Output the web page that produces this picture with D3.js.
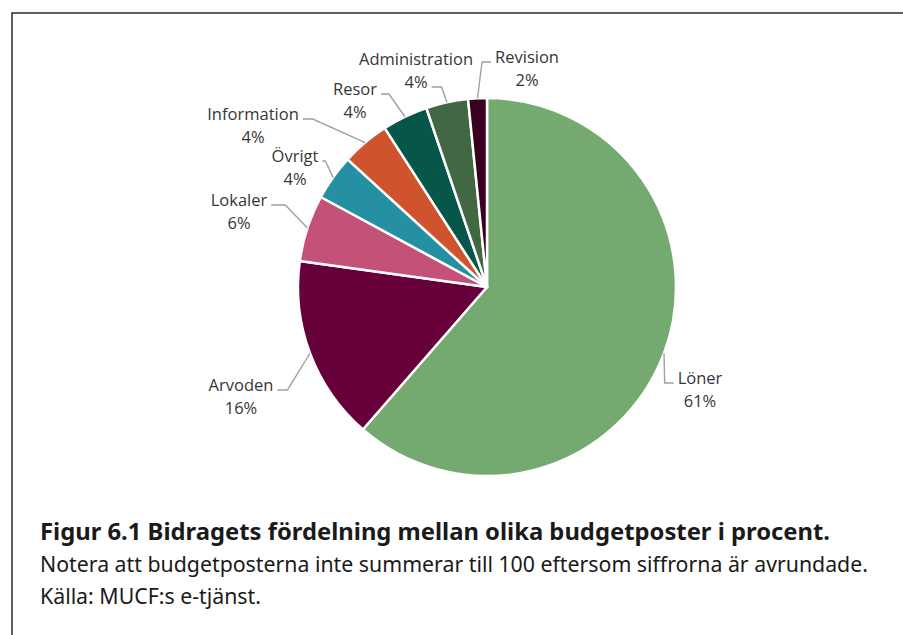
<!DOCTYPE html>
<html>
<head>
<meta charset="utf-8">
<script src="https://cdn.jsdelivr.net/npm/d3@7"></script>
<style>
  html, body { margin: 0; padding: 0; background: #fff; }
  svg { display: block; }
</style>
</head>
<body>
<svg id="chart" width="903" height="635"></svg>
<script>
// ---- data ----
const categories = ["Löner", "Arvoden", "Lokaler", "Övrigt", "Information", "Resor", "Administration", "Revision"];
const values = [61.4, 15.8, 5.7, 3.9, 4.1, 3.9, 3.6, 1.6];
const percentLabels = ["61%", "16%", "6%", "4%", "4%", "4%", "4%", "2%"];
const colors = ["#74AA6F", "#67003A", "#C45278", "#2690A3", "#CF532C", "#06564A", "#416743", "#3A0020"];
const titleText = "Figur 6.1 Bidragets fördelning mellan olika budgetposter i procent.";
const noteText = "Notera att budgetposterna inte summerar till 100 eftersom siffrorna är avrundade.";
const sourceText = "Källa: MUCF:s e-tjänst.";

// ---- label layout (manual placement, relative to pie centre) ----
const labelLayout = [
  { dx: 213,  dy: 97,   side: "left",  line: 1, elbow: 9 },
  { dx: -246, dy: 104,  side: "right", line: 1, elbow: 10 },
  { dx: -248, dy: -81,  side: "right", line: 1, elbow: 14 },
  { dx: -192, dy: -125, side: "right", line: 1, elbow: 3 },
  { dx: -234, dy: -167, side: "right", line: 1, elbow: 10 },
  { dx: -132, dy: -192, side: "right", line: 1, elbow: 8 },
  { dx: -71,  dy: -222, side: "right", line: 2, elbow: 10 },
  { dx: 40,   dy: -224, side: "left",  line: 1, elbow: 9 }
];

const svg = d3.select("#chart");
const W = 903, H = 635;
const cx = 487, cy = 287, R = 189;

// frame
svg.append("path")
  .attr("d", `M12,${H} V13 H${W}`)
  .attr("fill", "none")
  .attr("stroke", "#2b2b2b")
  .attr("stroke-width", 1.5);

const g = svg.append("g").attr("transform", `translate(${cx},${cy})`);

const pie = d3.pie().sort(null).value(d => d);
const arcs = pie(values);
const arc = d3.arc().innerRadius(0).outerRadius(R);
const edgeArc = d3.arc().innerRadius(R).outerRadius(R);

g.selectAll("path.slice")
  .data(arcs)
  .join("path")
  .attr("class", "slice")
  .attr("d", arc)
  .attr("fill", (d, i) => colors[i])
  .attr("stroke", "#fff")
  .attr("stroke-width", 2.5)
  .attr("stroke-linejoin", "round");

// labels
const lineGap = 23;
const labelFont = "'Open Sans', 'Noto Sans', sans-serif";
const lg = g.append("g");
arcs.forEach((d, i) => {
  const L = labelLayout[i];
  const t = lg.append("text")
    .attr("text-anchor", "middle")
    .attr("font-family", labelFont)
    .attr("font-size", 16.5)
    .attr("fill", "#363636");
  const t1 = t.append("tspan").attr("x", L.dx).attr("y", L.dy).text(categories[i]);
  const t2 = t.append("tspan").attr("x", L.dx).attr("y", L.dy + lineGap).text(percentLabels[i]);
  const target = L.line === 1 ? t1 : t2;
  const w = target.node().getComputedTextLength();
  const by = (L.line === 1 ? L.dy : L.dy + lineGap) - 1;
  const ax = L.side === "right" ? L.dx + w / 2 + 4 : L.dx - w / 2 - 4;
  const ex = L.side === "right" ? ax + L.elbow : ax - L.elbow;
  const p = edgeArc.centroid(d);
  lg.append("polyline")
    .attr("points", [[p[0], p[1]], [ex, by], [ax, by]].map(q => q.join(",")).join(" "))
    .attr("fill", "none")
    .attr("stroke", "#a0a0a0")
    .attr("stroke-width", 1.4);
});

// caption
const capFont = "'Noto Sans', 'Open Sans', sans-serif";
svg.append("text")
  .attr("x", 40).attr("y", 540)
  .attr("font-family", capFont)
  .attr("font-weight", "bold")
  .attr("font-size", 23.8)
  .attr("fill", "#1a1a1a")
  .text(titleText);
svg.append("text")
  .attr("x", 40).attr("y", 572)
  .attr("font-family", capFont)
  .attr("font-size", 21.3)
  .attr("fill", "#1a1a1a")
  .text(noteText);
svg.append("text")
  .attr("x", 40).attr("y", 604)
  .attr("font-family", capFont)
  .attr("font-size", 21.3)
  .attr("fill", "#1a1a1a")
  .text(sourceText);
</script>
</body>
</html>
